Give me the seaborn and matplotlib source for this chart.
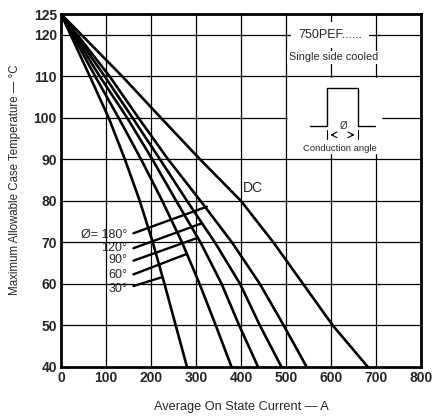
import numpy as np
import pandas as pd
import matplotlib
matplotlib.use("Agg")
import matplotlib.pyplot as plt
import seaborn as sns

# ---- data ----
temps = [125, 110, 100, 90, 80, 70, 60, 50, 40]
cur_30 = [0, 64, 106, 142, 175, 204, 230, 255, 280]
cur_60 = [0, 76, 128, 178, 225, 269, 308, 344, 379]
cur_90 = [0, 86, 147, 203, 256, 310, 357, 396, 438]
cur_120 = [0, 97, 159, 220, 280, 342, 398, 442, 490]
cur_180 = [0, 108, 172, 238, 310, 380, 442, 495, 546]
cur_dc = [0, 136, 222, 309, 400, 472, 538, 604, 682]

series_names = ["30", "60", "90", "120", "180", "DC"]
series_vals = [cur_30, cur_60, cur_90, cur_120, cur_180, cur_dc]

# connector lines: (start current, start temp, end current, end temp)
conn_names = ["180", "120", "90", "60", "30"]
conn_x0 = [161, 161, 161, 161, 161]
conn_y0 = [72.2, 68.6, 65.6, 62.3, 59.5]
conn_x1 = [324, 313, 301, 279, 224]
conn_y1 = [78.6, 74.6, 71.0, 67.2, 61.6]
label_texts = ["Ø= 180°", "120°", "90°", "60°", "30°"]
label_y = [71.8, 68.7, 65.8, 62.2, 58.8]

x_ticks = [0, 100, 200, 300, 400, 500, 600, 700, 800]
y_ticks = [40, 50, 60, 70, 80, 90, 100, 110, 120, 125]

rows = []
for n, v in zip(series_names, series_vals):
    for t, c in zip(temps, v):
        rows.append({"series": n, "current": c, "temp": t})
df = pd.DataFrame(rows)

sns.set_style("white")
plt.rcParams["font.family"] = ["Liberation Sans", "DejaVu Sans"]

fig = plt.figure(figsize=(4.32, 4.17), dpi=100)
ax = fig.add_axes([61/432, 1-367/417, 360/432, 353/417])

# grid
for xt in x_ticks[1:-1]:
    ax.axvline(xt, color="black", lw=0.9, zorder=1)
for yt in y_ticks[1:-1]:
    ax.axhline(yt, color="black", lw=0.9, zorder=1)

for n in series_names:
    sub = df[df["series"] == n]
    sns.lineplot(data=sub, x="current", y="temp", sort=False, estimator=None,
                 color="black", lw=1.9, ax=ax, zorder=3)

for x0, y0, x1, y1 in zip(conn_x0, conn_y0, conn_x1, conn_y1):
    ax.plot([x0, x1], [y0, y1], color="black", lw=1.7, zorder=3)

for t, y in zip(label_texts, label_y):
    ax.text(147, y, t, ha="right", va="center", fontsize=9, zorder=4)

ax.text(405, 83.2, "DC", ha="left", va="center", fontsize=10, zorder=4)

# inset annotation
ax.text(598, 120, "750PEF......", ha="center", va="center", fontsize=9,
        zorder=4, bbox=dict(facecolor="white", edgecolor="none", pad=5))
ax.text(605, 114.6, "Single side cooled", ha="center", va="center", fontsize=7.8,
        zorder=4, bbox=dict(facecolor="white", edgecolor="none", pad=1))
ax.fill_between([505, 712], 91.5, 109.5, color="white", zorder=2)
ax.plot([553, 592, 592, 659, 659, 698], [98, 98, 107.3, 107.3, 98, 98],
        color="black", lw=1.0, zorder=4)
ax.text(627, 98, "Ø", ha="center", va="center", fontsize=7, zorder=4)
ax.plot([592, 592], [94.8, 97], color="black", lw=0.8, zorder=4)
ax.plot([659, 659], [94.8, 97], color="black", lw=0.8, zorder=4)
ax.annotate("", xy=(592, 95.9), xytext=(612, 95.9),
            arrowprops=dict(arrowstyle="->", lw=0.8, color="black"), zorder=4)
ax.annotate("", xy=(659, 95.9), xytext=(639, 95.9),
            arrowprops=dict(arrowstyle="->", lw=0.8, color="black"), zorder=4)
ax.text(620, 92.7, "Conduction angle", ha="center", va="center", fontsize=6.8, zorder=4)

ax.set_xlim(0, 800)
ax.set_ylim(40, 125)
ax.set_xticks(x_ticks)
ax.set_yticks(y_ticks)
ax.set_xticklabels([str(v) for v in x_ticks], fontsize=10, fontweight="bold")
ax.set_yticklabels([str(v) for v in y_ticks], fontsize=10, fontweight="bold")
ax.tick_params(length=0, pad=3)
for s in ax.spines.values():
    s.set_visible(True)
    s.set_color("black")
    s.set_linewidth(2.0)

ax.set_xlabel("Average On State Current — A", fontsize=9.2)
ax.set_ylabel("Maximum Allowable Case Temperature — °C", fontsize=8.3)
ax.xaxis.set_label_coords(0.5, -0.095)
ax.yaxis.set_label_coords(-0.11, 0.53)

fig.savefig("out.png", dpi=100)
